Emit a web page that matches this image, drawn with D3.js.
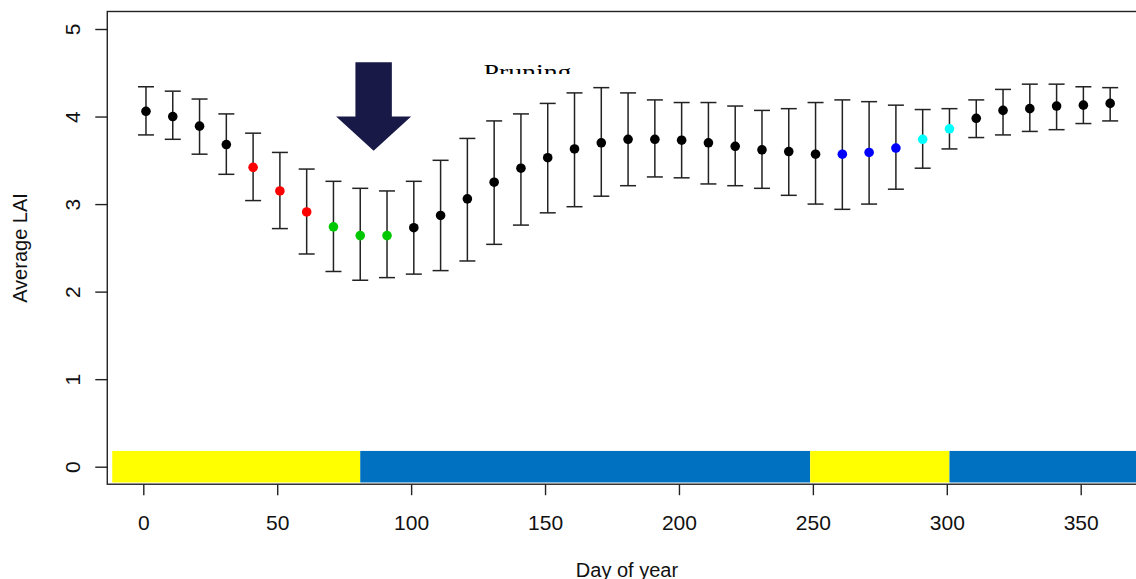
<!DOCTYPE html>
<html>
<head>
<meta charset="utf-8">
<script src="https://cdn.jsdelivr.net/npm/d3@7"></script>
<style>
  html, body { margin: 0; padding: 0; background: #fff; overflow: hidden; }
  svg { display: block; }
</style>
</head>
<body>
<svg id="chart" width="1136" height="579"></svg>
<script>
// Day of year for each composite
const days = [1, 11, 21, 31, 41, 51, 61, 71, 81, 91, 101, 111, 121, 131, 141, 151, 161, 171,
              181, 191, 201, 211, 221, 231, 241, 251, 261, 271, 281, 291, 301, 311, 321, 331,
              341, 351, 361];
// Average LAI with lower / upper ends of the error bars
const laiMean = [4.06, 4.00, 3.89, 3.68, 3.42, 3.15, 2.91, 2.74, 2.64, 2.64, 2.73, 2.87, 3.06,
                 3.25, 3.41, 3.53, 3.63, 3.70, 3.74, 3.74, 3.73, 3.70, 3.66, 3.62, 3.60, 3.57,
                 3.57, 3.59, 3.64, 3.74, 3.86, 3.98, 4.07, 4.09, 4.12, 4.13, 4.15];
const laiUpper = [4.34, 4.29, 4.20, 4.03, 3.81, 3.59, 3.40, 3.26, 3.18, 3.15, 3.26, 3.50, 3.75,
                  3.95, 4.03, 4.15, 4.27, 4.33, 4.27, 4.19, 4.16, 4.16, 4.12, 4.07, 4.09, 4.16,
                  4.19, 4.17, 4.13, 4.08, 4.09, 4.19, 4.31, 4.37, 4.37, 4.34, 4.33];
const laiLower = [3.79, 3.74, 3.57, 3.34, 3.04, 2.72, 2.43, 2.23, 2.13, 2.16, 2.20, 2.24, 2.35,
                  2.54, 2.76, 2.90, 2.97, 3.09, 3.21, 3.31, 3.30, 3.23, 3.21, 3.18, 3.10, 3.00,
                  2.94, 3.00, 3.17, 3.41, 3.63, 3.76, 3.79, 3.83, 3.85, 3.92, 3.95];
// Marker colour of each composite
const pointColor = ["black", "black", "black", "black", "red", "red", "red", "green", "green",
                    "green", "black", "black", "black", "black", "black", "black", "black",
                    "black", "black", "black", "black", "black", "black", "black", "black",
                    "black", "blue", "blue", "blue", "cyan", "cyan", "black", "black", "black",
                    "black", "black", "black"];
// Season band along the bottom: start day, end day, colour
const seasonStart = [-11.6, 81, 249, 301];
const seasonEnd   = [81, 249, 301, 385];
const seasonFill  = ["#ffff00", "#0070c0", "#ffff00", "#0070c0"];

const xTicks = [0, 50, 100, 150, 200, 250, 300, 350];
const yTicks = [0, 1, 2, 3, 4, 5];
const xLim = [-13.45, 385];
const yLim = [-0.2, 5.2];

const palette = { black: "#000000", red: "#ff0000", green: "#00c800", blue: "#0000ff", cyan: "#00ffff" };

const svg = d3.select("#chart");
const font = "'Liberation Sans', Arial, sans-serif";

const x = d3.scaleLinear().domain([0, 350]).range([143.3, 1080.7]);
const y = d3.scaleLinear().domain([0, 5]).range([466.7, 29]);

const boxL = x(xLim[0]), boxR = x(xLim[1]);
const boxT = y(yLim[1]), boxB = y(yLim[0]);

// Season band
svg.append("g").selectAll("rect")
  .data(seasonStart.map((s, i) => ({ s, e: seasonEnd[i], fill: seasonFill[i] })))
  .join("rect")
  .attr("x", d => x(d.s))
  .attr("width", d => x(d.e) - x(d.s))
  .attr("y", y(0.18))
  .attr("height", y(-0.18) - y(0.18))
  .attr("fill", d => d.fill);

// Plot frame
svg.append("rect")
  .attr("x", boxL).attr("y", boxT)
  .attr("width", boxR - boxL).attr("height", boxB - boxT)
  .attr("fill", "none").attr("stroke", "#222").attr("stroke-width", 1.4);

// X axis
const xAxis = svg.append("g")
  .attr("transform", `translate(0,${boxB})`)
  .call(d3.axisBottom(x).tickValues(xTicks).tickSize(11).tickPadding(21).tickFormat(d3.format("d")));
xAxis.select(".domain").remove();
xAxis.selectAll("line").attr("stroke", "#222").attr("stroke-width", 1.4);
xAxis.selectAll("text").attr("font-family", font).attr("font-size", 21).attr("fill", "#111")
  .attr("dy", null).attr("y", 45.5);

// Y axis (labels rotated, parallel to the axis)
const yAxis = svg.append("g")
  .attr("transform", `translate(${boxL},0)`)
  .call(d3.axisLeft(y).tickValues(yTicks).tickSize(12).tickFormat(d3.format("d")));
yAxis.select(".domain").remove();
yAxis.selectAll("line").attr("stroke", "#222").attr("stroke-width", 1.4);
yAxis.selectAll("text")
  .attr("font-family", font).attr("font-size", 21).attr("fill", "#111")
  .attr("x", null).attr("dy", null)
  .attr("text-anchor", "middle")
  .attr("transform", `translate(${80 - boxL},0) rotate(-90)`);

// Axis titles
svg.append("text")
  .attr("x", 627).attr("y", 576.5)
  .attr("text-anchor", "middle")
  .attr("font-family", font).attr("font-size", 20).attr("fill", "#111")
  .text("Day of year");
svg.append("text")
  .attr("transform", "translate(27,248) rotate(-90)")
  .attr("text-anchor", "middle")
  .attr("font-family", font).attr("font-size", 20).attr("fill", "#111")
  .text("Average LAI");

// Error bars
const bars = svg.append("g").attr("stroke", "#222").attr("stroke-width", 1.5);
days.forEach((d, i) => {
  const cx = x(d);
  bars.append("line").attr("x1", cx).attr("x2", cx).attr("y1", y(laiLower[i])).attr("y2", y(laiUpper[i]));
  bars.append("line").attr("x1", cx - 8).attr("x2", cx + 8).attr("y1", y(laiUpper[i])).attr("y2", y(laiUpper[i]));
  bars.append("line").attr("x1", cx - 8).attr("x2", cx + 8).attr("y1", y(laiLower[i])).attr("y2", y(laiLower[i]));
});

// Mean markers
svg.append("g").selectAll("circle")
  .data(days)
  .join("circle")
  .attr("cx", d => x(d))
  .attr("cy", (d, i) => y(laiMean[i]))
  .attr("r", 4.8)
  .attr("fill", (d, i) => palette[pointColor[i]]);

// Pruning arrow
const ax = 86, shaftHalf = 6.8, headHalf = 14;
const arrowPts = [
  [ax - shaftHalf, 4.62], [ax + shaftHalf, 4.62], [ax + shaftHalf, 4.0], [ax + headHalf, 4.0],
  [ax, 3.61], [ax - headHalf, 4.0], [ax - shaftHalf, 4.0]
];
svg.append("polygon")
  .attr("points", arrowPts.map(p => [x(p[0]), y(p[1])].join(",")).join(" "))
  .attr("fill", "#191947");

// Pruning label (lower part hidden)
svg.append("clipPath").attr("id", "labelClip")
  .append("rect").attr("x", 470).attr("y", 50).attr("width", 130).attr("height", 24);
svg.append("text")
  .attr("clip-path", "url(#labelClip)")
  .attr("x", 483.5).attr("y", 79)
  .attr("font-family", "'Liberation Serif', 'Times New Roman', serif")
  .attr("font-size", 21)
  .attr("textLength", 88).attr("lengthAdjust", "spacingAndGlyphs")
  .attr("fill", "#000")
  .text("Pruning");
</script>
</body>
</html>
